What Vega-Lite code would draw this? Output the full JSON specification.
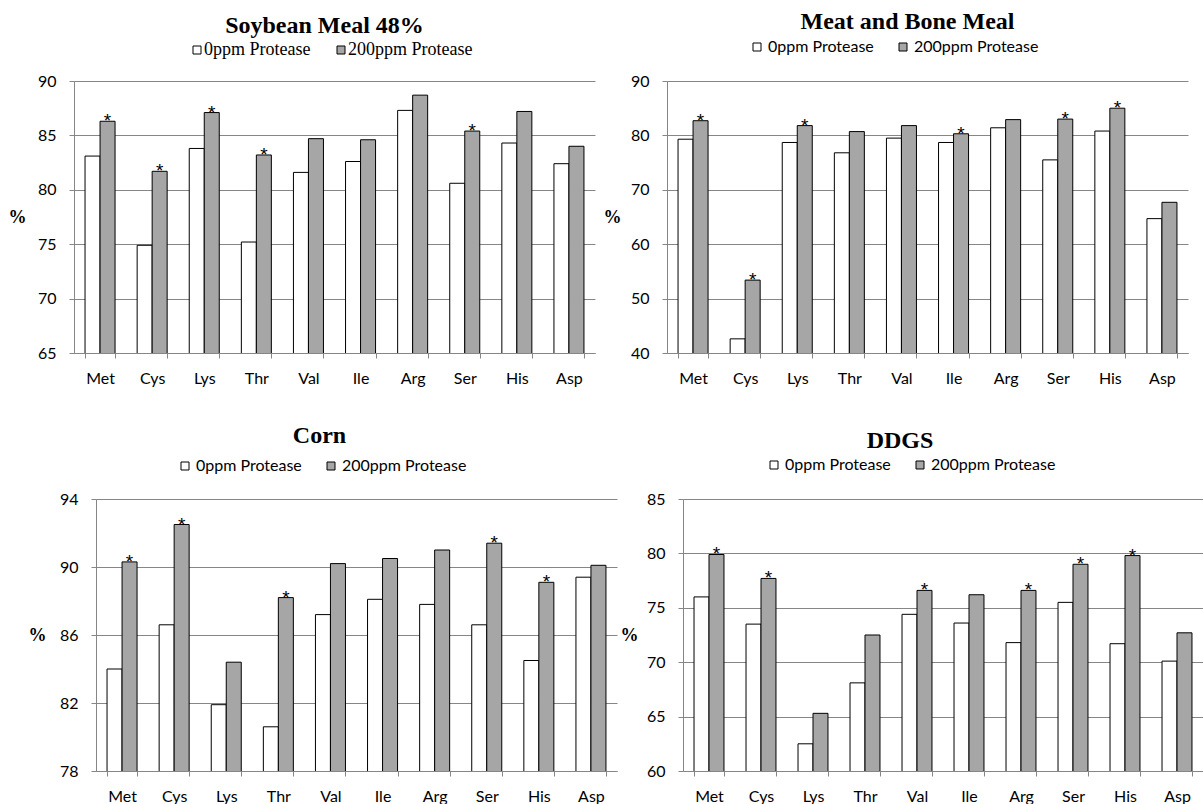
{
  "$schema": "https://vega.github.io/schema/vega-lite/v6.json",
  "background": "white",
  "padding": {"left": 8, "top": 10, "right": 0, "bottom": 0},
  "datasets": {
    "soy": [
      {"aa": "Met", "t": "0ppm Protease", "v": 83.1, "s": 0}, {"aa": "Met", "t": "200ppm Protease", "v": 86.3, "s": 1},
      {"aa": "Cys", "t": "0ppm Protease", "v": 74.9, "s": 0}, {"aa": "Cys", "t": "200ppm Protease", "v": 81.7, "s": 1},
      {"aa": "Lys", "t": "0ppm Protease", "v": 83.8, "s": 0}, {"aa": "Lys", "t": "200ppm Protease", "v": 87.1, "s": 1},
      {"aa": "Thr", "t": "0ppm Protease", "v": 75.2, "s": 0}, {"aa": "Thr", "t": "200ppm Protease", "v": 83.2, "s": 1},
      {"aa": "Val", "t": "0ppm Protease", "v": 81.6, "s": 0}, {"aa": "Val", "t": "200ppm Protease", "v": 84.7, "s": 0},
      {"aa": "Ile", "t": "0ppm Protease", "v": 82.6, "s": 0}, {"aa": "Ile", "t": "200ppm Protease", "v": 84.6, "s": 0},
      {"aa": "Arg", "t": "0ppm Protease", "v": 87.3, "s": 0}, {"aa": "Arg", "t": "200ppm Protease", "v": 88.7, "s": 0},
      {"aa": "Ser", "t": "0ppm Protease", "v": 80.6, "s": 0}, {"aa": "Ser", "t": "200ppm Protease", "v": 85.4, "s": 1},
      {"aa": "His", "t": "0ppm Protease", "v": 84.3, "s": 0}, {"aa": "His", "t": "200ppm Protease", "v": 87.2, "s": 0},
      {"aa": "Asp", "t": "0ppm Protease", "v": 82.4, "s": 0}, {"aa": "Asp", "t": "200ppm Protease", "v": 84.0, "s": 0}
    ],
    "meat": [
      {"aa": "Met", "t": "0ppm Protease", "v": 79.3, "s": 0}, {"aa": "Met", "t": "200ppm Protease", "v": 82.7, "s": 1},
      {"aa": "Cys", "t": "0ppm Protease", "v": 42.6, "s": 0}, {"aa": "Cys", "t": "200ppm Protease", "v": 53.4, "s": 1},
      {"aa": "Lys", "t": "0ppm Protease", "v": 78.7, "s": 0}, {"aa": "Lys", "t": "200ppm Protease", "v": 81.8, "s": 1},
      {"aa": "Thr", "t": "0ppm Protease", "v": 76.8, "s": 0}, {"aa": "Thr", "t": "200ppm Protease", "v": 80.7, "s": 0},
      {"aa": "Val", "t": "0ppm Protease", "v": 79.5, "s": 0}, {"aa": "Val", "t": "200ppm Protease", "v": 81.8, "s": 0},
      {"aa": "Ile", "t": "0ppm Protease", "v": 78.7, "s": 0}, {"aa": "Ile", "t": "200ppm Protease", "v": 80.3, "s": 1},
      {"aa": "Arg", "t": "0ppm Protease", "v": 81.4, "s": 0}, {"aa": "Arg", "t": "200ppm Protease", "v": 82.9, "s": 0},
      {"aa": "Ser", "t": "0ppm Protease", "v": 75.5, "s": 0}, {"aa": "Ser", "t": "200ppm Protease", "v": 83.0, "s": 1},
      {"aa": "His", "t": "0ppm Protease", "v": 80.8, "s": 0}, {"aa": "His", "t": "200ppm Protease", "v": 85.0, "s": 1},
      {"aa": "Asp", "t": "0ppm Protease", "v": 64.7, "s": 0}, {"aa": "Asp", "t": "200ppm Protease", "v": 67.7, "s": 0}
    ],
    "corn": [
      {"aa": "Met", "t": "0ppm Protease", "v": 84.0, "s": 0}, {"aa": "Met", "t": "200ppm Protease", "v": 90.3, "s": 1},
      {"aa": "Cys", "t": "0ppm Protease", "v": 86.6, "s": 0}, {"aa": "Cys", "t": "200ppm Protease", "v": 92.5, "s": 1},
      {"aa": "Lys", "t": "0ppm Protease", "v": 81.9, "s": 0}, {"aa": "Lys", "t": "200ppm Protease", "v": 84.4, "s": 0},
      {"aa": "Thr", "t": "0ppm Protease", "v": 80.6, "s": 0}, {"aa": "Thr", "t": "200ppm Protease", "v": 88.2, "s": 1},
      {"aa": "Val", "t": "0ppm Protease", "v": 87.2, "s": 0}, {"aa": "Val", "t": "200ppm Protease", "v": 90.2, "s": 0},
      {"aa": "Ile", "t": "0ppm Protease", "v": 88.1, "s": 0}, {"aa": "Ile", "t": "200ppm Protease", "v": 90.5, "s": 0},
      {"aa": "Arg", "t": "0ppm Protease", "v": 87.8, "s": 0}, {"aa": "Arg", "t": "200ppm Protease", "v": 91.0, "s": 0},
      {"aa": "Ser", "t": "0ppm Protease", "v": 86.6, "s": 0}, {"aa": "Ser", "t": "200ppm Protease", "v": 91.4, "s": 1},
      {"aa": "His", "t": "0ppm Protease", "v": 84.5, "s": 0}, {"aa": "His", "t": "200ppm Protease", "v": 89.1, "s": 1},
      {"aa": "Asp", "t": "0ppm Protease", "v": 89.4, "s": 0}, {"aa": "Asp", "t": "200ppm Protease", "v": 90.1, "s": 0}
    ],
    "ddgs": [
      {"aa": "Met", "t": "0ppm Protease", "v": 76.0, "s": 0}, {"aa": "Met", "t": "200ppm Protease", "v": 79.9, "s": 1},
      {"aa": "Cys", "t": "0ppm Protease", "v": 73.5, "s": 0}, {"aa": "Cys", "t": "200ppm Protease", "v": 77.7, "s": 1},
      {"aa": "Lys", "t": "0ppm Protease", "v": 62.5, "s": 0}, {"aa": "Lys", "t": "200ppm Protease", "v": 65.3, "s": 0},
      {"aa": "Thr", "t": "0ppm Protease", "v": 68.1, "s": 0}, {"aa": "Thr", "t": "200ppm Protease", "v": 72.5, "s": 0},
      {"aa": "Val", "t": "0ppm Protease", "v": 74.4, "s": 0}, {"aa": "Val", "t": "200ppm Protease", "v": 76.6, "s": 1},
      {"aa": "Ile", "t": "0ppm Protease", "v": 73.6, "s": 0}, {"aa": "Ile", "t": "200ppm Protease", "v": 76.2, "s": 0},
      {"aa": "Arg", "t": "0ppm Protease", "v": 71.8, "s": 0}, {"aa": "Arg", "t": "200ppm Protease", "v": 76.6, "s": 1},
      {"aa": "Ser", "t": "0ppm Protease", "v": 75.5, "s": 0}, {"aa": "Ser", "t": "200ppm Protease", "v": 79.0, "s": 1},
      {"aa": "His", "t": "0ppm Protease", "v": 71.7, "s": 0}, {"aa": "His", "t": "200ppm Protease", "v": 79.8, "s": 1},
      {"aa": "Asp", "t": "0ppm Protease", "v": 70.1, "s": 0}, {"aa": "Asp", "t": "200ppm Protease", "v": 72.7, "s": 0}
    ]
  },
  "concat": [
    {
      "hconcat": [
        {
          "width": 521, "height": 272,
          "data": {"name": "soy"},
          "title": {"text": "Soybean Meal 48%", "frame": "group", "baseline": "bottom", "offset": -21, "dx": -10},
          "encoding": {
            "x": {"field": "aa", "type": "nominal", "sort": ["Met", "Cys", "Lys", "Thr", "Val", "Ile", "Arg", "Ser", "His", "Asp"], "scale": {"paddingInner": 0.424, "paddingOuter": 0.212}, "axis": {"title": null}},
            "xOffset": {"field": "t", "type": "nominal", "sort": ["0ppm Protease", "200ppm Protease"], "scale": {"paddingInner": 0, "paddingOuter": 0}},
            "y": {"field": "v", "type": "quantitative", "scale": {"domain": [65, 90], "nice": false, "zero": false}, "axis": {"values": [65, 70, 75, 80, 85, 90], "title": "%", "titleX": -57, "titleY": 136}}
          },
          "layer": [
            {"mark": {"type": "bar", "stroke": "#000000", "strokeWidth": 1, "clip": true},
             "encoding": {"fill": {"field": "t", "type": "nominal", "scale": {"domain": ["0ppm Protease", "200ppm Protease"], "range": ["#FFFFFF", "#A6A6A6"]},
               "legend": {"title": null, "legendX": 114, "legendY": -40, "labelFont": "Liberation Serif", "labelFontSize": 18, "labelOffset": -2, "columnPadding": 21}}}},
            {"transform": [{"filter": "datum.s == 1"}], "mark": {"type": "text", "text": "*", "font": "Liberation Sans", "fontSize": 19, "baseline": "alphabetic", "dy": 6, "color": "#000000"}}
          ]
        },
        {
          "width": 521, "height": 272,
          "data": {"name": "meat"},
          "title": {"text": "Meat and Bone Meal", "frame": "group", "baseline": "bottom", "offset": -19, "dx": -20},
          "encoding": {
            "x": {"field": "aa", "type": "nominal", "sort": ["Met", "Cys", "Lys", "Thr", "Val", "Ile", "Arg", "Ser", "His", "Asp"], "scale": {"paddingInner": 0.424, "paddingOuter": 0.212}, "axis": {"title": null}},
            "xOffset": {"field": "t", "type": "nominal", "sort": ["0ppm Protease", "200ppm Protease"], "scale": {"paddingInner": 0, "paddingOuter": 0}},
            "y": {"field": "v", "type": "quantitative", "scale": {"domain": [40, 90], "nice": false, "zero": false}, "axis": {"values": [40, 50, 60, 70, 80, 90], "title": "%", "titleX": -55, "titleY": 136}}
          },
          "layer": [
            {"mark": {"type": "bar", "stroke": "#000000", "strokeWidth": 1, "clip": true},
             "encoding": {"fill": {"field": "t", "type": "nominal", "scale": {"domain": ["0ppm Protease", "200ppm Protease"], "range": ["#FFFFFF", "#A6A6A6"]},
               "legend": {"title": null, "legendX": 82, "legendY": -42}}}},
            {"transform": [{"filter": "datum.s == 1"}], "mark": {"type": "text", "text": "*", "font": "Liberation Sans", "fontSize": 19, "baseline": "alphabetic", "dy": 6, "color": "#000000"}}
          ]
        }
      ],
      "spacing": 8,
      "bounds": "full",
      "resolve": {"scale": {"x": "independent", "y": "independent", "xOffset": "independent", "fill": "independent"}, "legend": {"fill": "independent"}}
    },
    {
      "hconcat": [
        {"width": 1, "height": 1, "data": {"values": []}, "mark": "point"},
        {
          "hconcat": [
            {
              "width": 521, "height": 272,
              "data": {"name": "corn"},
              "title": {"text": "Corn", "frame": "group", "baseline": "bottom", "offset": -14, "dx": -37},
              "encoding": {
                "x": {"field": "aa", "type": "nominal", "sort": ["Met", "Cys", "Lys", "Thr", "Val", "Ile", "Arg", "Ser", "His", "Asp"], "scale": {"paddingInner": 0.424, "paddingOuter": 0.212}, "axis": {"title": null}},
                "xOffset": {"field": "t", "type": "nominal", "sort": ["0ppm Protease", "200ppm Protease"], "scale": {"paddingInner": 0, "paddingOuter": 0}},
                "y": {"field": "v", "type": "quantitative", "scale": {"domain": [78, 94], "nice": false, "zero": false}, "axis": {"values": [78, 82, 86, 90, 94], "title": "%", "titleX": -59, "titleY": 136}}
              },
              "layer": [
                {"mark": {"type": "bar", "stroke": "#000000", "strokeWidth": 1, "clip": true},
                 "encoding": {"fill": {"field": "t", "type": "nominal", "scale": {"domain": ["0ppm Protease", "200ppm Protease"], "range": ["#FFFFFF", "#A6A6A6"]},
                   "legend": {"title": null, "legendX": 81, "legendY": -41}}}},
                {"transform": [{"filter": "datum.s == 1"}], "mark": {"type": "text", "text": "*", "font": "Liberation Sans", "fontSize": 19, "baseline": "alphabetic", "dy": 6, "color": "#000000"}}
              ]
            },
            {
              "width": 520, "height": 272,
              "data": {"name": "ddgs"},
              "title": {"text": "DDGS", "frame": "group", "baseline": "bottom", "offset": -20, "dx": -43},
              "encoding": {
                "x": {"field": "aa", "type": "nominal", "sort": ["Met", "Cys", "Lys", "Thr", "Val", "Ile", "Arg", "Ser", "His", "Asp"], "scale": {"paddingInner": 0.424, "paddingOuter": 0.212}, "axis": {"title": null}},
                "xOffset": {"field": "t", "type": "nominal", "sort": ["0ppm Protease", "200ppm Protease"], "scale": {"paddingInner": 0, "paddingOuter": 0}},
                "y": {"field": "v", "type": "quantitative", "scale": {"domain": [60, 85], "nice": false, "zero": false}, "axis": {"values": [60, 65, 70, 75, 80, 85], "title": "%", "titleX": -54, "titleY": 136}}
              },
              "layer": [
                {"mark": {"type": "bar", "stroke": "#000000", "strokeWidth": 1, "clip": true},
                 "encoding": {"fill": {"field": "t", "type": "nominal", "scale": {"domain": ["0ppm Protease", "200ppm Protease"], "range": ["#FFFFFF", "#A6A6A6"]},
                   "legend": {"title": null, "legendX": 83, "legendY": -42}}}},
                {"transform": [{"filter": "datum.s == 1"}], "mark": {"type": "text", "text": "*", "font": "Liberation Sans", "fontSize": 19, "baseline": "alphabetic", "dy": 6, "color": "#000000"}}
              ]
            }
          ],
          "spacing": 66,
          "bounds": "flush",
          "resolve": {"scale": {"x": "independent", "y": "independent", "xOffset": "independent", "fill": "independent"}, "legend": {"fill": "independent"}}
        }
      ],
      "spacing": -47,
      "bounds": "full",
      "resolve": {"scale": {"x": "independent", "y": "independent", "xOffset": "independent", "fill": "independent"}, "legend": {"fill": "independent"}}
    }
  ],
  "columns": 1,
  "align": "none",
  "spacing": 38,
  "bounds": "full",
  "resolve": {"scale": {"x": "independent", "y": "independent", "xOffset": "independent", "fill": "independent"}, "legend": {"fill": "independent"}},
  "config": {
    "view": {"stroke": null},
    "font": "Lato",
    "title": {"font": "Liberation Serif", "fontSize": 24, "fontWeight": "bold", "color": "#000000", "anchor": "middle"},
    "axis": {"labelFont": "Lato", "labelFontSize": 16, "labelColor": "#000000", "domainColor": "#868686", "domainWidth": 1, "tickColor": "#868686", "tickSize": 5, "tickWidth": 1, "gridColor": "#868686", "gridWidth": 1, "gridOpacity": 1},
    "axisX": {"tickBand": "extent", "labelAngle": 0, "labelPadding": 12, "grid": false},
    "axisY": {"labelPadding": 13, "grid": true, "titleAngle": 0, "titleFont": "Liberation Serif", "titleFontWeight": "bold", "titleFontSize": 18, "titleColor": "#000000", "titleAlign": "center", "titleBaseline": "middle"},
    "legend": {"orient": "none", "direction": "horizontal", "symbolType": "square", "symbolSize": 64, "symbolStrokeColor": "#000000", "symbolStrokeWidth": 1, "labelFont": "Lato", "labelFontSize": 16, "labelColor": "#000000", "labelOffset": 3, "columnPadding": 21}
  }
}
